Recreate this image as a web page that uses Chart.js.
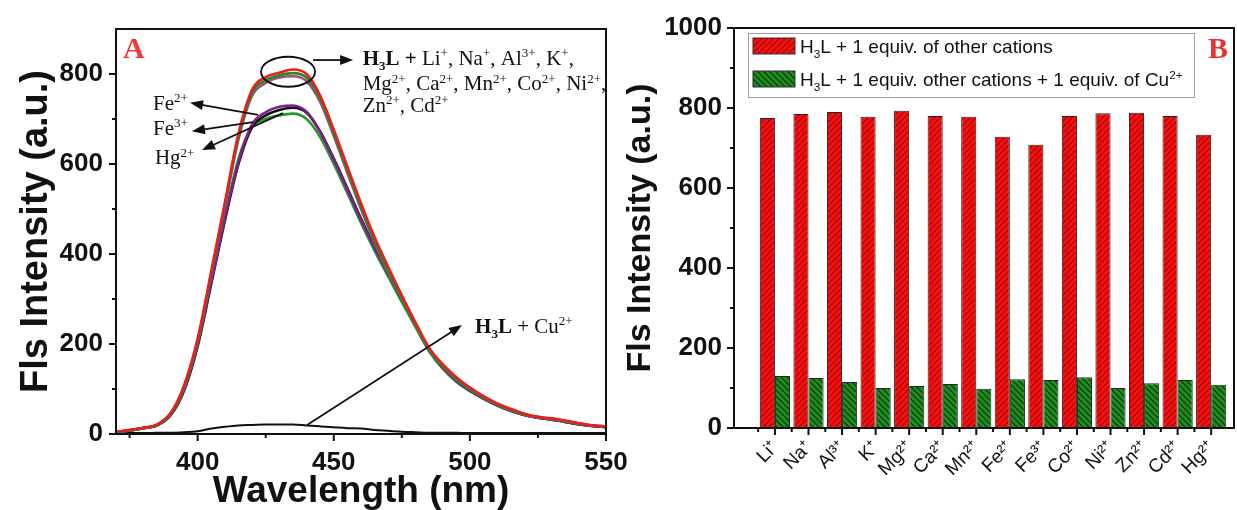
<!DOCTYPE html>
<html>
<head>
<meta charset="utf-8">
<script src="https://cdn.jsdelivr.net/npm/chart.js@4.4.0/dist/chart.umd.min.js"></script>
<style>
  html, body { margin: 0; padding: 0; background: #fff; }
  #wrap { position: relative; width: 1237px; height: 510px; overflow: hidden; }
  #cA { position: absolute; left: 0; top: 0; }
  #cB { position: absolute; left: 620px; top: 0; }
</style>
</head>
<body>
<div id="wrap">
  <canvas id="cA" width="645" height="510"></canvas>
  <canvas id="cB" width="617" height="510"></canvas>
</div>
<script>
// ---- panel A : emission spectra ----
const wavelength = [370,375,380,385,390,395,400,405,410,415,420,425,430,435,440,445,450,455,460,465,470,475,480,485,490,495,500,505,510,515,520,525,530,535,540,545,550];
const specRed    = [5,9,14,21,46,108,212,362,515,668,765,793,803,810,800,752,676,594,513,437,371,308,248,192,155,126,103,84,68,56,45,38,35,30,24,19,17];
const specGreen  = [4,8,13,20,44,104,206,355,508,660,758,786,797,802,792,745,668,586,505,429,363,300,242,187,151,123,100,82,66,54,44,38,34,29,24,19,17];
const specPink   = [4,8,13,20,44,104,206,355,505,655,752,780,792,795,784,738,662,580,500,425,359,298,240,185,150,121,99,81,65,53,43,37,33,28,23,19,16];
const specFe2    = [4,8,13,19,42,98,198,338,478,605,688,715,727,730,716,672,610,543,476,414,356,298,242,188,148,119,97,79,64,52,42,36,32,27,22,18,15];
const specFe3    = [4,8,13,19,41,96,195,334,474,600,682,708,720,725,714,672,612,546,479,416,358,299,243,188,148,119,97,79,64,52,42,36,32,27,22,18,15];
const specHg     = [4,8,13,19,43,100,200,342,482,612,683,700,708,712,700,660,600,535,469,407,350,293,238,184,145,116,95,78,63,51,42,36,32,27,22,18,15];
const specCu     = [2,2,2,3,3,4,6,12,16,19,20,21,21,21,19,17,15,13,12,9,7,5,4,3,3,3,2,2,2,2,2,2,2,2,2,2,2];
const xTicksA = [400, 450, 500, 550];
const xMinorA = [375, 425, 475, 525];
const yTicksA = [0, 200, 400, 600, 800];
const yMinorA = [100, 300, 500, 700];

// ---- panel B : bar chart ----
const cations = ['Li⁺','Na⁺','Al³⁺','K⁺','Mg²⁺','Ca²⁺','Mn²⁺','Fe²⁺','Fe³⁺','Co²⁺','Ni²⁺','Zn²⁺','Cd²⁺','Hg²⁺'];
const withCation = [775,785,790,778,793,780,778,728,708,780,787,788,780,733];
const withCu     = [130,125,115,100,105,110,98,122,120,127,100,112,120,108];
const yTicksB = [0, 200, 400, 600, 800, 1000];
const yMinorB = [100, 300, 500, 700, 900];

const SANS = '"Liberation Sans", Arial, sans-serif';
const SERIF = '"Liberation Serif", "Times New Roman", serif';

function pts(arr) { return wavelength.map((w, i) => ({ x: w, y: arr[i] })); }

function hatch(bg, line, dir) {
  const c = document.createElement('canvas');
  c.width = 6; c.height = 6;
  const g = c.getContext('2d');
  g.fillStyle = bg; g.fillRect(0, 0, 6, 6);
  g.strokeStyle = line; g.lineWidth = 1.2;
  g.beginPath();
  if (dir > 0) {
    g.moveTo(-1, 7); g.lineTo(7, -1);
    g.moveTo(-4, 4); g.lineTo(4, -4);
    g.moveTo(2, 10); g.lineTo(10, 2);
  } else {
    g.moveTo(-1, -1); g.lineTo(7, 7);
    g.moveTo(-4, 2); g.lineTo(4, 10);
    g.moveTo(2, -4); g.lineTo(10, 4);
  }
  g.stroke();
  return g.createPattern(c, 'repeat');
}

// text with _{sub} and ^{sup}
function rich(ctx, str, x, y, size, family, weight) {
  const parts = str.split(/(_\{[^}]*\}|\^\{[^}]*\})/);
  parts.forEach(p => {
    if (!p) return;
    let t = p, dy = 0, s = size;
    if (p.startsWith('_{')) { t = p.slice(2, -1); s = size * 0.62; dy = size * 0.25; }
    else if (p.startsWith('^{')) { t = p.slice(2, -1); s = size * 0.62; dy = -size * 0.36; }
    ctx.font = weight + ' ' + s + 'px ' + family;
    ctx.fillText(t, x, y + dy);
    x += ctx.measureText(t).width;
  });
  return x;
}

function arrow(ctx, x1, y1, x2, y2) {
  const a = Math.atan2(y2 - y1, x2 - x1), L = 13, W = 5;
  ctx.beginPath();
  ctx.moveTo(x1, y1);
  ctx.lineTo(x2 - L * 0.8 * Math.cos(a), y2 - L * 0.8 * Math.sin(a));
  ctx.stroke();
  ctx.beginPath();
  ctx.moveTo(x2, y2);
  ctx.lineTo(x2 - L * Math.cos(a) + W * Math.sin(a), y2 - L * Math.sin(a) - W * Math.cos(a));
  ctx.lineTo(x2 - L * Math.cos(a) - W * Math.sin(a), y2 - L * Math.sin(a) + W * Math.cos(a));
  ctx.closePath();
  ctx.fill();
}

// outward tick marks + closed frame
const tickMarks = {
  id: 'tickMarks',
  afterDraw(chart, args, o) {
    const ctx = chart.ctx, a = chart.chartArea, sx = chart.scales.x, sy = chart.scales.y;
    ctx.save();
    ctx.strokeStyle = '#111';
    ctx.lineWidth = 2;
    ctx.beginPath();
    o.xMajor.forEach(v => { const p = sx.getPixelForValue(v); ctx.moveTo(p, a.bottom); ctx.lineTo(p, a.bottom + 7); });
    o.xMinor.forEach(v => { const p = sx.getPixelForValue(v); ctx.moveTo(p, a.bottom); ctx.lineTo(p, a.bottom + 4); });
    o.yMajor.forEach(v => { const p = sy.getPixelForValue(v); ctx.moveTo(a.left, p); ctx.lineTo(a.left - 7, p); });
    o.yMinor.forEach(v => { const p = sy.getPixelForValue(v); ctx.moveTo(a.left, p); ctx.lineTo(a.left - 4, p); });
    ctx.stroke();
    ctx.strokeRect(a.left, a.top, a.right - a.left, a.bottom - a.top);
    ctx.restore();
  }
};

const notesA = {
  id: 'notesA',
  afterDraw(chart) {
    const ctx = chart.ctx, sx = chart.scales.x, sy = chart.scales.y;
    const P = (l, v) => [sx.getPixelForValue(l), sy.getPixelForValue(v)];
    ctx.save();
    ctx.textAlign = 'left';
    ctx.textBaseline = 'alphabetic';
    // panel letter
    ctx.fillStyle = '#f03a3a';
    let [x, y] = P(372.6, 835);
    ctx.font = 'bold 30px ' + SERIF;
    ctx.fillText('A', x, y);

    ctx.fillStyle = '#111';
    ctx.strokeStyle = '#111';
    ctx.lineWidth = 1.8;
    // ellipse around the peaks
    const [ex, ey] = P(433.2, 805);
    ctx.beginPath();
    ctx.ellipse(ex, ey, 27, 15, 0, 0, Math.PI * 2);
    ctx.stroke();
    let t = P(442.4, 831), h = P(457.1, 831);
    arrow(ctx, t[0], t[1], h[0], h[1]);
    [x, y] = P(460.6, 820);
    x = rich(ctx, 'H_{3}L + ', x, y, 21, SERIF, 'bold');
    rich(ctx, 'Li^{+}, Na^{+}, Al^{3+}, K^{+},', x, y, 21, SERIF, 'normal');
    [x, y] = P(460.6, 764);
    rich(ctx, 'Mg^{2+}, Ca^{2+}, Mn^{2+}, Co^{2+}, Ni^{2+},', x, y, 21, SERIF, 'normal');
    [x, y] = P(460.6, 716);
    rich(ctx, 'Zn^{2+}, Cd^{2+}', x, y, 21, SERIF, 'normal');

    // Fe / Hg labels
    [x, y] = P(383.6, 720); rich(ctx, 'Fe^{2+}', x, y, 21, SERIF, 'normal');
    [x, y] = P(383.6, 665); rich(ctx, 'Fe^{3+}', x, y, 21, SERIF, 'normal');
    [x, y] = P(384.3, 599); rich(ctx, 'Hg^{2+}', x, y, 21, SERIF, 'normal');
    t = P(422.2, 709); h = P(397.2, 736); arrow(ctx, t[0], t[1], h[0], h[1]);
    t = P(420.3, 693); h = P(397.9, 673); arrow(ctx, t[0], t[1], h[0], h[1]);
    t = P(431.3, 713); h = P(401.6, 631); arrow(ctx, t[0], t[1], h[0], h[1]);

    // Cu label
    t = P(440.2, 20); h = P(497.1, 242); arrow(ctx, t[0], t[1], h[0], h[1]);
    [x, y] = P(501.9, 225);
    x = rich(ctx, 'H_{3}L', x, y, 21, SERIF, 'bold');
    rich(ctx, ' + Cu^{2+}', x, y, 21, SERIF, 'normal');
    ctx.restore();
  }
};

const notesB = {
  id: 'notesB',
  afterDraw(chart) {
    const ctx = chart.ctx, a = chart.chartArea;
    const ds = chart.data.datasets;
    ctx.save();
    const bx = a.left + 14, by = a.top + 5, bw = 446, bh = 64;
    ctx.strokeStyle = '#a0a0a0';
    ctx.lineWidth = 1;
    ctx.strokeRect(bx + 0.5, by + 0.5, bw, bh);
    const rows = [by + 13, by + 46];
    ctx.textAlign = 'left';
    ctx.textBaseline = 'alphabetic';
    ds.forEach((d, i) => {
      ctx.fillStyle = d.backgroundColor;
      ctx.fillRect(bx + 5, rows[i] - 8, 42, 16);
      ctx.strokeStyle = '#333';
      ctx.strokeRect(bx + 5, rows[i] - 8, 42, 16);
      ctx.fillStyle = '#111';
      rich(ctx, d.label, bx + 52, rows[i] + 7, 19, SANS, 'normal');
    });
    ctx.fillStyle = '#e83232';
    ctx.font = 'bold 30px ' + SERIF;
    ctx.fillText('B', a.right - 26, a.top + 30);
    ctx.restore();
  }
};

new Chart(document.getElementById('cA'), {
  type: 'line',
  data: {
    datasets: [
      { label: 'Li+ ... Cd2+ (a)', data: pts(specRed), borderColor: '#ee1d1d' },
      { label: 'Li+ ... Cd2+ (b)', data: pts(specGreen), borderColor: '#1f8f1f' },
      { label: 'Li+ ... Cd2+ (c)', data: pts(specPink), borderColor: '#a04a8a' },
      { label: 'Fe2+', data: pts(specFe2), borderColor: '#7d1f8c' },
      { label: 'Fe3+', data: pts(specFe3), borderColor: '#111111' },
      { label: 'Hg2+', data: pts(specHg), borderColor: '#2a952a' },
      { label: 'Cu2+', data: pts(specCu), borderColor: '#111111', borderWidth: 2 }
    ]
  },
  options: {
    responsive: false,
    animation: false,
    layout: { padding: { top: 29, right: 39, left: 0, bottom: 0 } },
    elements: {
      point: { radius: 0 },
      line: { borderWidth: 2.6, cubicInterpolationMode: 'monotone', fill: false }
    },
    plugins: { legend: { display: false }, tooltip: { enabled: false },
      tickMarks: { xMajor: xTicksA, xMinor: xMinorA, yMajor: yTicksA, yMinor: yMinorA } },
    scales: {
      x: {
        type: 'linear', min: 370, max: 550,
        afterBuildTicks: s => { s.ticks = xTicksA.map(v => ({ value: v })); },
        afterFit: s => { s.height = 76; s.paddingLeft = 0; s.paddingRight = 0; },
        grid: { display: false, drawTicks: false },
        border: { color: '#111', width: 2 },
        ticks: { color: '#111', padding: 13, font: { family: SANS, size: 26, weight: 'bold' } },
        title: { display: true, text: 'Wavelength (nm)', color: '#111',
          font: { family: SANS, size: 37, weight: 'bold', lineHeight: 1 }, padding: { bottom: 0 } }
      },
      y: {
        min: 0, max: 900,
        afterBuildTicks: s => { s.ticks = yTicksA.map(v => ({ value: v })); },
        afterFit: s => { s.width = 116; s.paddingTop = 0; s.paddingBottom = 0; },
        grid: { display: false, drawTicks: false },
        border: { color: '#111', width: 2 },
        ticks: { color: '#111', padding: 13, font: { family: SANS, size: 26, weight: 'bold' } },
        title: { display: true, text: 'Fls Intensity (a.u.)', color: '#111',
          font: { family: SANS, size: 38, weight: 'bold', lineHeight: 1 }, padding: { top: 18 } }
      }
    }
  },
  plugins: [tickMarks, notesA]
});

const redFill = hatch('#f71010', '#a00808', 1);
const greenFill = hatch('#1f8c1f', '#0a350a', -1);

new Chart(document.getElementById('cB'), {
  type: 'bar',
  data: {
    datasets: [
      { label: 'H_{3}L + 1 equiv. of other cations',
        data: cations.map((c, i) => ({ x: i + 1, y: withCation[i] })),
        backgroundColor: redFill, borderColor: '#3a1a1a', borderWidth: 1 },
      { label: 'H_{3}L + 1 equiv. other cations + 1 equiv. of Cu^{2+}',
        data: cations.map((c, i) => ({ x: i + 1, y: withCu[i] })),
        backgroundColor: greenFill, borderColor: '#1a2a1a', borderWidth: 1 }
    ]
  },
  options: {
    responsive: false,
    animation: false,
    layout: { padding: { top: 28, right: 3, left: 0, bottom: 0 } },
    datasets: { bar: { categoryPercentage: 0.9, barPercentage: 1.0 } },
    plugins: { legend: { display: false }, tooltip: { enabled: false },
      tickMarks: { xMajor: cations.map((c, i) => i + 1), xMinor: cations.map((c, i) => i + 0.5),
        yMajor: yTicksB, yMinor: yMinorB } },
    scales: {
      x: {
        type: 'linear', min: -0.22, max: 14.68, offset: false,
        afterBuildTicks: s => { s.ticks = cations.map((c, i) => ({ value: i + 1 })); },
        afterFit: s => { s.height = 82; s.paddingLeft = 0; s.paddingRight = 0; },
        grid: { display: false, drawTicks: false },
        border: { color: '#111', width: 2 },
        ticks: { color: '#111', padding: 9, autoSkip: false, minRotation: 45, maxRotation: 45,
          font: { family: SANS, size: 19 },
          callback: v => cations[v - 1] }
      },
      y: {
        min: 0, max: 1000,
        afterBuildTicks: s => { s.ticks = yTicksB.map(v => ({ value: v })); },
        afterFit: s => { s.width = 114; s.paddingTop = 0; s.paddingBottom = 0; },
        grid: { display: false, drawTicks: false },
        border: { color: '#111', width: 2 },
        ticks: { color: '#111', padding: 12, font: { family: SANS, size: 26, weight: 'bold' },
          callback: v => String(v) },
        title: { display: true, text: 'Fls Intensity (a.u.)', color: '#111',
          font: { family: SANS, size: 34, weight: 'bold', lineHeight: 1 }, padding: { top: 4 } }
      }
    }
  },
  plugins: [tickMarks, notesB]
});
</script>
</body>
</html>
